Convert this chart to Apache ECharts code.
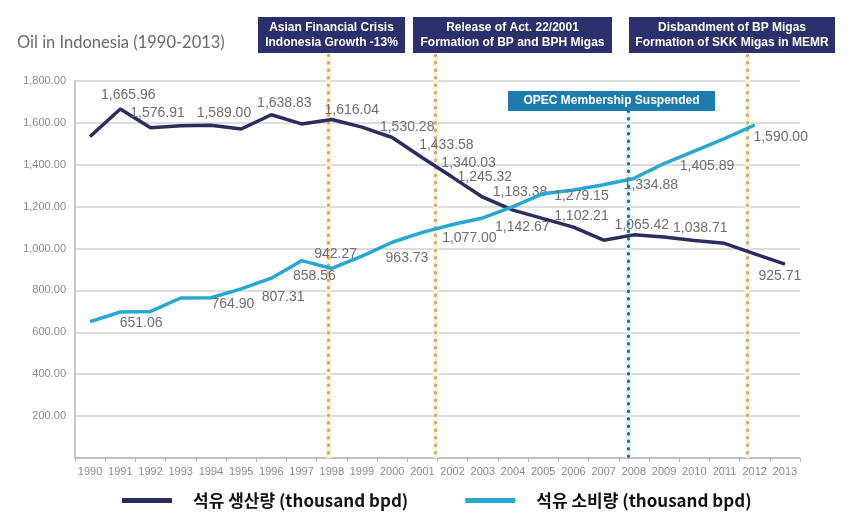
<!DOCTYPE html>
<html>
<head>
<meta charset="utf-8">
<script src="https://cdn.jsdelivr.net/npm/echarts@6/dist/echarts.min.js"></script>
<style>
html,body{margin:0;padding:0;background:#fff;}
#chart{width:853px;height:527px;}
</style>
</head>
<body>
<div id="chart"></div>
<script>
// ---------- data ----------
const years = ['1990','1991','1992','1993','1994','1995','1996','1997','1998','1999','2000','2001',
               '2002','2003','2004','2005','2006','2007','2008','2009','2010','2011','2012','2013'];
const production = [1535, 1665.96, 1576.91, 1586, 1589.00, 1571, 1638.83, 1595, 1616.04, 1580, 1530.28, 1433.58,
                    1340.03, 1245.32, 1183.38, 1142.67, 1102.21, 1040, 1065.42, 1055, 1038.71, 1025, 975, 925.71];
const consumption = [651.06, 697, 700, 764, 764.90, 807.31, 858.56, 942.27, 905, 963.73, 1030, 1077.00,
                     1115, 1146, 1200, 1262, 1279.15, 1305, 1334.88, 1405.89, 1465, 1525, 1590.00, null];
const seriesNames = ['석유 생산량 (thousand bpd)', '석유 소비량 (thousand bpd)'];
const titleText = 'Oil in Indonesia (1990-2013)';
const yTicks = {min: 0, max: 1800, interval: 200};
// event markers (position on the year scale)
const eventYears = [1997.88, 2001.42, 2007.81, 2011.75];
const eventTexts = [
  'Asian Financial Crisis\nIndonesia Growth -13%',
  'Release of Act. 22/2001\nFormation of BP and BPH Migas',
  'OPEC Membership Suspended',
  'Disbandment of BP Migas\nFormation of SKK Migas in MEMR'
];

// ---------- styling / layout (not data) ----------
const GRID = {left: 75, right: 53, top: 81, bottom: 69};
const H = 527;
const axisY0 = H - GRID.bottom;               // pixel of value 0
const LINE_TOP_PX = 55, OPEC_TOP_PX = 111;
const pxPerUnit = (axisY0 - GRID.top) / yTicks.max;
const lineTopVal = (axisY0 - LINE_TOP_PX) / pxPerUnit;
const opecTopVal = (axisY0 - OPEC_TOP_PX) / pxPerUnit;
const eventDotColors = ['#dca459', '#dca459', '#2b6878', '#dca459'];
const eventHaloColors = ['#fdf1de', '#fdf1de', '#dff1f7', '#fdf1de'];
const eventTops = [lineTopVal, lineTopVal, opecTopVal, lineTopVal];

const prodLabelOffsets = {1:[8,-14],2:[7,-15],4:[13,-12],6:[13,-12],8:[20,-9],10:[15,-10],11:[24,-13],
  12:[16,-14],13:[2,-20],14:[7,-18],15:[-21,8],16:[8,-11],18:[8,-10],20:[6,-12],23:[-5,12]};
const consLabelOffsets = {0:[51,2],4:[22,6],5:[42,8],6:[43,-2],7:[34,-7],9:[45,2],11:[47,6],
  16:[8,6],18:[17,7],19:[43,3],22:[26,12]};

const fmt = v => Number(v).toLocaleString('en-US', {minimumFractionDigits: 2, maximumFractionDigits: 2});

function withLabels(arr, offs) {
  return arr.map((v, i) => ({
    value: v,
    label: offs[i] ? {show: true, offset: offs[i]} : {show: false}
  }));
}

const labelStyle = {
  position: 'inside', color: '#6e6e6e', fontSize: 14,
  fontFamily: 'Liberation Sans, Arial, sans-serif',
  formatter: p => fmt(p.value)
};

const chart = echarts.init(document.getElementById('chart'), null, {renderer: 'canvas'});

const haloLines = eventYears.map((y, i) => [
  {coord: [y, eventTops[i]], lineStyle: {color: eventHaloColors[i], type: 'solid', width: 5}},
  {coord: [y, 0]}
]);
const dotLines = eventYears.map((y, i) => [
  {coord: [y, eventTops[i]], lineStyle: {color: eventDotColors[i], type: [0.5, 7], width: 3, cap: 'round'}},
  {coord: [y, 0]}
]);

// annotation boxes
const boxes = [
  {x: 258, y: 17, w: 147, h: 36, color: '#2b2f6b', text: eventTexts[0]},
  {x: 413, y: 17, w: 199, h: 36, color: '#2b2f6b', text: eventTexts[1]},
  {x: 508, y: 91, w: 207, h: 20, color: '#1d7bad', text: eventTexts[2]},
  {x: 629, y: 17, w: 206, h: 36, color: '#2b2f6b', text: eventTexts[3]}
];
const graphics = [];
boxes.forEach(b => {
  graphics.push({type: 'rect', left: b.x, top: b.y, shape: {width: b.w, height: b.h}, style: {fill: b.color}, z: 10, silent: true});
  graphics.push({type: 'text', x: b.x + b.w / 2, y: b.y + b.h / 2, z: 11, silent: true,
    style: {text: b.text, fill: '#fff', font: 'bold 12px "Liberation Sans", Arial, sans-serif',
            align: 'center', verticalAlign: 'middle', lineHeight: 15}});
});

chart.setOption({
  animation: false,
  backgroundColor: '#fff',
  title: {
    text: titleText, left: 12, top: 29,
    textStyle: {fontFamily: 'Lato, sans-serif', fontSize: 16.5, fontWeight: 'normal', color: '#6a6a6a'}
  },
  legend: {
    left: 117, top: 487, itemWidth: 50, itemHeight: 5, itemGap: 57, icon: 'rect',
    data: seriesNames,
    textStyle: {fontFamily: '"Noto Sans CJK KR", sans-serif', fontSize: 17, fontWeight: 'bold',
                color: '#111', padding: [0, 0, 0, 16]}
  },
  grid: [
    {left: GRID.left, right: GRID.right, top: GRID.top, bottom: GRID.bottom},
    {left: GRID.left, right: GRID.right, top: LINE_TOP_PX, bottom: GRID.bottom}
  ],
  xAxis: [
    {
      type: 'category', data: years, boundaryGap: true, gridIndex: 0,
      axisLine: {lineStyle: {color: '#b8b8b8', width: 1.5}},
      axisTick: {show: true, length: 4, lineStyle: {color: '#b8b8b8'}},
      axisLabel: {color: '#8a8a8a', fontSize: 11, margin: 8, interval: 0,
                  fontFamily: 'Liberation Sans, Arial, sans-serif'}
    },
    {type: 'value', gridIndex: 1, min: 1989.5, max: 2013.5, show: false}
  ],
  yAxis: [
    {
      type: 'value', gridIndex: 0, min: yTicks.min, max: yTicks.max, interval: yTicks.interval,
      axisLine: {show: true, lineStyle: {color: '#b8b8b8', width: 1.5}},
      axisTick: {show: false},
      splitLine: {lineStyle: {color: '#d2d2d2', width: 1.5}},
      axisLabel: {color: '#8a8a8a', fontSize: 11, margin: 9,
                  fontFamily: 'Liberation Sans, Arial, sans-serif',
                  formatter: v => v === 0 ? '' : fmt(v)}
    },
    {type: 'value', gridIndex: 1, min: 0, max: lineTopVal, show: false}
  ],
  graphic: graphics,
  series: [
    {
      name: 'eventHalo', type: 'line', xAxisIndex: 1, yAxisIndex: 1, data: [], silent: true, z: 1,
      markLine: {silent: true, z: 1, symbol: 'none', label: {show: false}, animation: false, data: haloLines}
    },
    {
      name: 'eventDots', type: 'line', xAxisIndex: 1, yAxisIndex: 1, data: [], silent: true, z: 2,
      markLine: {silent: true, z: 2, symbol: 'none', label: {show: false}, animation: false, data: dotLines}
    },
    {
      name: seriesNames[0], type: 'line', data: withLabels(production, prodLabelOffsets),
      color: '#2b2d5e', lineStyle: {width: 3.5, color: '#2b2d5e'},
      symbol: 'circle', symbolSize: 1, showSymbol: true, z: 3,
      label: labelStyle, emphasis: {disabled: true}
    },
    {
      name: seriesNames[1], type: 'line', data: withLabels(consumption, consLabelOffsets),
      color: '#27a8d0', lineStyle: {width: 3.5, color: '#27a8d0'},
      symbol: 'circle', symbolSize: 1, showSymbol: true, z: 4,
      label: labelStyle, emphasis: {disabled: true}
    }
  ]
});
</script>
</body>
</html>
